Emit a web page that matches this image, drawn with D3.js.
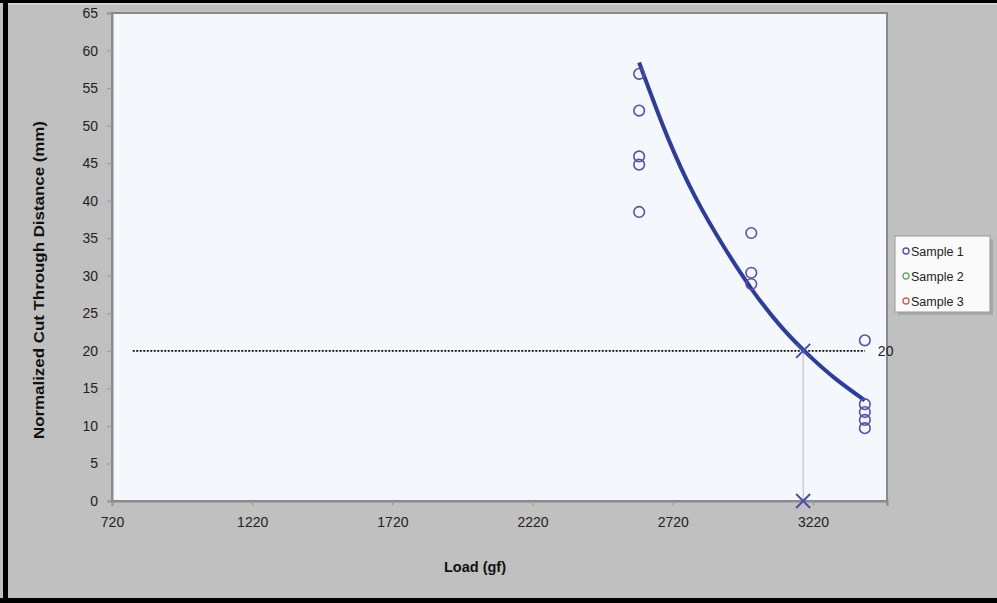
<!DOCTYPE html>
<html>
<head>
<meta charset="utf-8">
<script src="https://cdn.jsdelivr.net/npm/d3@7"></script>
<style>
  body { margin: 0; background: #c0c0c0; }
  svg { display: block; font-family: Arial, "Liberation Sans", sans-serif; }
</style>
</head>
<body>
<script>
// sample 1 measurements (load gf, normalized cut-through mm)
var sample1Load = [2600, 2600, 2600, 2600, 2600, 3000, 3000, 3000, 3405, 3405, 3405, 3405, 3405];
var sample1Cut  = [56.9, 52.0, 45.9, 44.8, 38.5, 35.7, 30.4, 28.9, 21.4, 12.9, 11.85, 10.8, 9.7];

// trend line
var trendLoad = [2600, 2700, 2800, 2900, 3000, 3100, 3200, 3300, 3405];
var trendCut  = [58.4, 48.6, 40.5, 34.0, 28.3, 23.5, 19.6, 16.3, 13.4];

var targetCut = 20;
var targetLoad = 3185;
var refLineLoad = [794, 3405];

var xTicks = [720, 1220, 1720, 2220, 2720, 3220];
var yTicks = [0, 5, 10, 15, 20, 25, 30, 35, 40, 45, 50, 55, 60, 65];
var legendNames = ["Sample 1", "Sample 2", "Sample 3"];
var legendColors = ["#5a4fa8", "#6aa86a", "#d06060"];

var width = 997, height = 603;
var svg = d3.select("body").append("svg")
  .attr("width", width)
  .attr("height", height);

// outer frame
svg.append("rect").attr("x", 0).attr("y", 0).attr("width", width).attr("height", height).attr("fill", "#c0c0c0");
svg.append("rect").attr("x", 0).attr("y", 0).attr("width", width).attr("height", 3).attr("fill", "#000");
svg.append("rect").attr("x", 3).attr("y", 0).attr("width", 5).attr("height", height).attr("fill", "#000");
svg.append("rect").attr("x", 0).attr("y", 598).attr("width", width).attr("height", 5).attr("fill", "#000");
svg.append("rect").attr("x", 8).attr("y", 3).attr("width", width - 8).attr("height", 2).attr("fill", "#d4d4d4");

var plotLeft = 112, plotRight = 887, plotTop = 13, plotBottom = 501;

var x = d3.scaleLinear().domain([720, 3484]).range([plotLeft, plotRight]);
var y = d3.scaleLinear().domain([0, 65]).range([plotBottom, plotTop]);

svg.append("rect")
  .attr("x", plotLeft).attr("y", plotTop)
  .attr("width", plotRight - plotLeft).attr("height", plotBottom - plotTop)
  .attr("fill", "#f4f8fc")
  .attr("stroke", "#8a8a8a")
  .attr("stroke-width", 2);

// axes
var yAxis = svg.append("g")
  .attr("transform", "translate(" + plotLeft + ",0)")
  .call(d3.axisLeft(y).tickValues(yTicks).tickSize(5).tickPadding(9));
var xAxis = svg.append("g")
  .attr("transform", "translate(0," + plotBottom + ")")
  .call(d3.axisBottom(x).tickValues(xTicks).tickSize(5).tickPadding(11).tickFormat(d3.format("d")));

[yAxis, xAxis].forEach(function(a) {
  a.select(".domain").attr("stroke", "#8a8a8a").attr("stroke-width", 2);
  a.selectAll(".tick line").attr("stroke", "#9a9a9a");
  a.selectAll(".tick text").attr("fill", "#222").style("font-size", "14px");
});

// reference line at 20
svg.append("line")
  .attr("x1", x(refLineLoad[0])).attr("x2", x(refLineLoad[1]))
  .attr("y1", y(targetCut)).attr("y2", y(targetCut))
  .attr("stroke", "#111")
  .attr("stroke-width", 1.6)
  .attr("stroke-dasharray", "2,1.5");

svg.append("text")
  .attr("x", x(refLineLoad[1]) + 13)
  .attr("y", y(targetCut) + 5)
  .attr("fill", "#222")
  .style("font-size", "14px")
  .text(targetCut);

// drop line
svg.append("line")
  .attr("x1", x(targetLoad)).attr("x2", x(targetLoad))
  .attr("y1", y(targetCut)).attr("y2", y(0))
  .attr("stroke", "#b8b8b8")
  .attr("stroke-width", 1);

// trend curve
var line = d3.line()
  .x(function(d) { return x(d[0]); })
  .y(function(d) { return y(d[1]); })
  .curve(d3.curveNatural);

svg.append("path")
  .datum(d3.zip(trendLoad, trendCut))
  .attr("d", line)
  .attr("fill", "none")
  .attr("stroke", "#2e3d9c")
  .attr("stroke-width", 4);

// points
svg.selectAll(".pt")
  .data(d3.zip(sample1Load, sample1Cut))
  .enter()
  .append("circle")
  .attr("class", "pt")
  .attr("cx", function(d) { return x(d[0]); })
  .attr("cy", function(d) { return y(d[1]); })
  .attr("r", 5.3)
  .attr("fill", "none")
  .attr("stroke", "#5a4fa8")
  .attr("stroke-width", 1.6);

// crosses
[[targetLoad, targetCut], [targetLoad, 0]].forEach(function(p) {
  var cx = x(p[0]), cy = y(p[1]), s = 7;
  svg.append("path")
    .attr("d", "M" + (cx - s) + "," + (cy - s) + "L" + (cx + s) + "," + (cy + s) +
               "M" + (cx - s) + "," + (cy + s) + "L" + (cx + s) + "," + (cy - s))
    .attr("stroke", "#4a4ea8")
    .attr("stroke-width", 2);
});

// axis titles
svg.append("text")
  .attr("x", 475)
  .attr("y", 572)
  .attr("text-anchor", "middle")
  .style("font-size", "14.5px")
  .style("font-weight", "bold")
  .attr("fill", "#111")
  .text("Load (gf)");

svg.append("text")
  .attr("transform", "translate(44,280) rotate(-90)")
  .attr("text-anchor", "middle")
  .attr("textLength", 318)
  .attr("lengthAdjust", "spacingAndGlyphs")
  .style("font-size", "15.5px")
  .style("font-weight", "bold")
  .attr("fill", "#111")
  .text("Normalized Cut Through Distance (mm)");

// legend
var lg = svg.append("g").attr("transform", "translate(895,236)");
lg.append("rect").attr("x", 3).attr("y", 3).attr("width", 95).attr("height", 76).attr("fill", "#a8a8a8");
lg.append("rect").attr("width", 95).attr("height", 76).attr("fill", "#fafafa").attr("stroke", "#999");
var items = lg.selectAll(".li").data(legendNames).enter().append("g")
  .attr("transform", function(d, i) { return "translate(0," + (15 + i * 25) + ")"; });
items.append("circle").attr("cx", 11).attr("cy", 0).attr("r", 3)
  .attr("fill", "none").attr("stroke-width", 1.4)
  .attr("stroke", function(d, i) { return legendColors[i]; });
items.append("text").attr("x", 16).attr("y", 4.5)
  .style("font-size", "12.5px").attr("fill", "#222")
  .text(function(d) { return d; });
</script>
</body>
</html>
